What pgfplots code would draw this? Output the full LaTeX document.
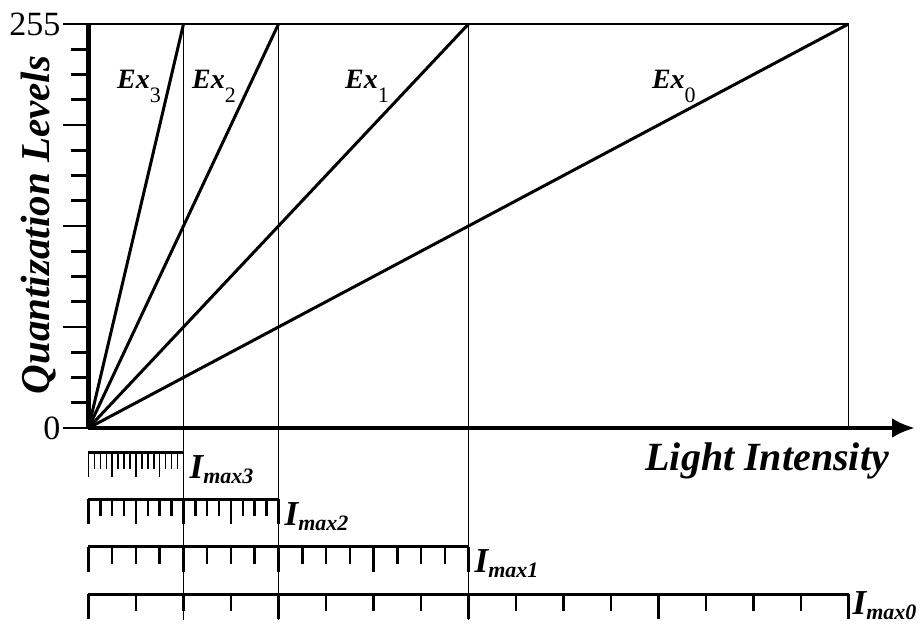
\documentclass[border=0pt]{standalone}
\usepackage{fontspec}
\setmainfont{Liberation Serif}
\usepackage{pgfplots}
\pgfplotsset{compat=1.18}
\usetikzlibrary{arrows.meta}
\pgfplotsset{
  scalebar/.style={scale only axis, height=10pt, ymin=0, ymax=1, xmin=0,
    hide y axis, axis x line=bottom, x axis line style={-, line width=3pt},
    tick align=outside, xticklabels={,,,,,}, major tick length=25pt,
    minor tick length=17pt, minor x tick num=3, anchor=south west,
    tick style={line width=2.5pt, black}, clip=false},
}
\newcommand{\Ex}[1]{{\fontsize{28}{30}\selectfont\bfseries\itshape Ex}\raisebox{-14pt}{\fontsize{22}{24}\selectfont #1}}
\newcommand{\Imax}[1]{{\fontsize{35}{36}\selectfont\bfseries\itshape I}\raisebox{-5pt}{\fontsize{22}{24}\selectfont\bfseries\itshape max#1}}
\begin{document}
\begin{tikzpicture}
\path[use as bounding box] (-88.5pt,-197pt) rectangle (833.5pt,428pt);
\begin{axis}[
  scale only axis, width=826.5pt, height=404pt,
  at={(0,0)}, anchor=south west,
  xmin=0, xmax=8.7, ymin=0, ymax=255,
  axis x line=bottom, axis y line=left,
  x axis line style={line width=4.5pt, -{Latex[length=23pt,width=20pt]}},
  y axis line style={line width=5pt, -},
  xtick=\empty,
  ytick={0,63.75,127.5,191.25,255},
  yticklabels={0,,,,255},
  minor y tick num=3,
  tick align=outside,
  major tick length=25pt, minor tick length=17pt,
  tick style={line width=2.8pt, black},
  /pgf/number format/assume math mode=true,
  yticklabel style={font=\fontsize{34}{34}\selectfont, inner sep=0pt, xshift=-3pt},
  clip=false,
  xlabel={Light Intensity},
  every axis x label/.style={at={(axis cs:0,0)}, anchor=base west, xshift=553.5pt, yshift=-42pt,
    font=\fontsize{40}{40}\selectfont\bfseries\itshape},
  ylabel={Quantization Levels},
  every axis y label/.style={at={(axis description cs:0,0.5025)}, xshift=-38.5pt, rotate=90, anchor=base,
    font=\fontsize{41}{41}\selectfont\bfseries\itshape},
]
% frame top line and vertical guides
\addplot[black, line width=1.2pt] coordinates {(0,255) (8,255)};
\addplot[black, line width=1.2pt] coordinates {(1,255) (1,-121)};
\addplot[black, line width=1.2pt] coordinates {(2,255) (2,-121)};
\addplot[black, line width=1.2pt] coordinates {(4,255) (4,-121)};
\addplot[black, line width=1.2pt] coordinates {(8,255) (8,0)};
% exposure lines
\addplot[black, line width=3pt] coordinates {(0,0) (1,255)};
\addplot[black, line width=3pt] coordinates {(0,0) (2,255)};
\addplot[black, line width=3pt] coordinates {(0,0) (4,255)};
\addplot[black, line width=3pt] coordinates {(0,0) (8,255)};
\node[anchor=base west, inner sep=0pt] at (axis cs:0.3,214.6) {\Ex{3}};
\node[anchor=base west, inner sep=0pt] at (axis cs:1.089,214.6) {\Ex{2}};
\node[anchor=base west, inner sep=0pt] at (axis cs:2.7,214.6) {\Ex{1}};
\node[anchor=base west, inner sep=0pt] at (axis cs:5.93,214.6) {\Ex{0}};
\node[anchor=base west, inner sep=0pt, xshift=6pt, yshift=-50pt] at (axis cs:1,0) {\Imax{3}};
\node[anchor=base west, inner sep=0pt, xshift=6pt, yshift=-97pt] at (axis cs:2,0) {\Imax{2}};
\node[anchor=base west, inner sep=0pt, xshift=6pt, yshift=-144pt] at (axis cs:4,0) {\Imax{1}};
\node[anchor=base west, inner sep=0pt, xshift=4pt, yshift=-186pt] at (axis cs:8,0) {\Imax{0}};
\end{axis}
\begin{axis}[scalebar, at={(0,-24pt)}, width=95pt, xmax=1, xtick={0,0.25,0.5,0.75,1},
  tick style={line width=1.5pt, black}]
\end{axis}
\begin{axis}[scalebar, at={(0,-71pt)}, width=190pt, xmax=2, xtick={0,0.5,1,1.5,2}]
\end{axis}
\begin{axis}[scalebar, at={(0,-118.7pt)}, width=380pt, xmax=4, xtick={0,1,2,3,4}]
\end{axis}
\begin{axis}[scalebar, at={(0,-166pt)}, width=760pt, xmax=8, xtick={0,2,4,6,8}]
\end{axis}
\end{tikzpicture}
\end{document}
